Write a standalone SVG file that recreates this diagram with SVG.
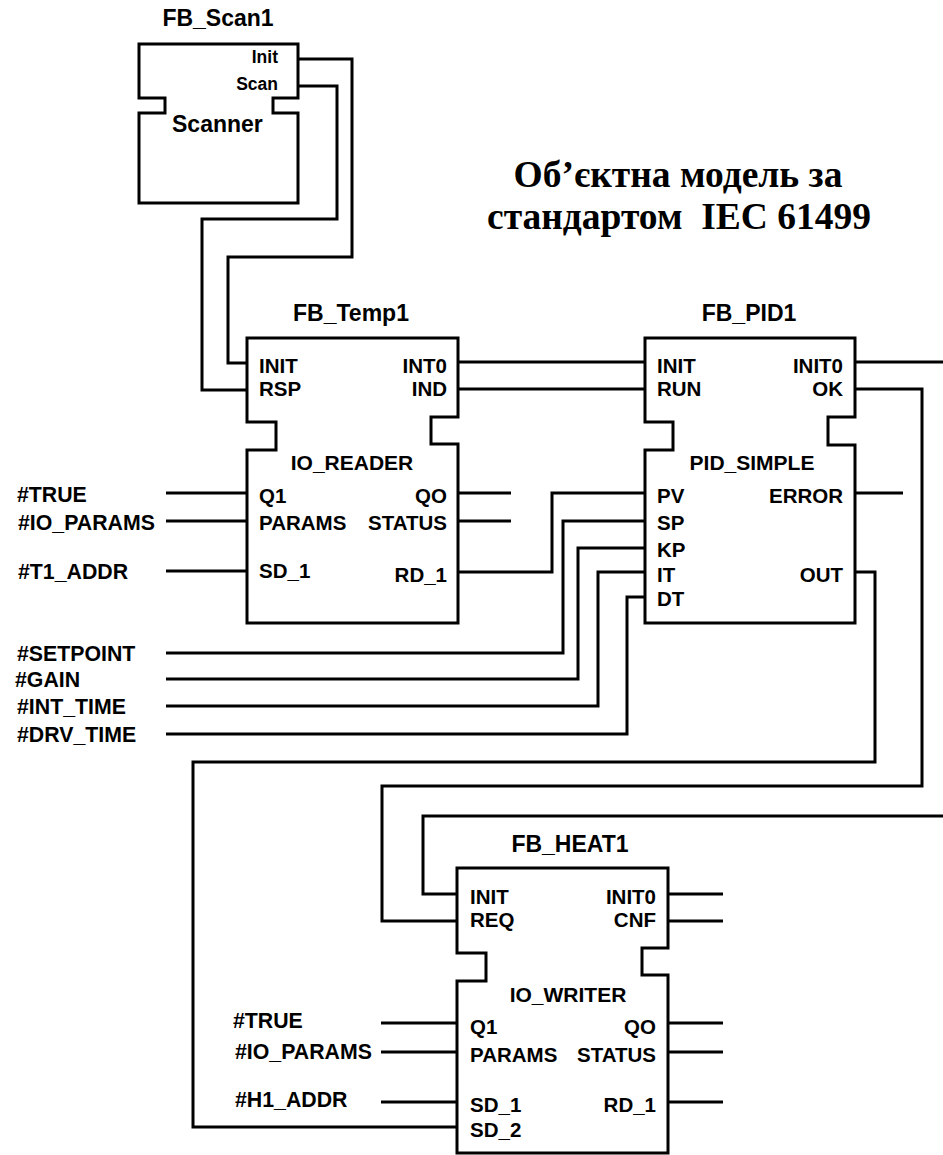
<svg xmlns="http://www.w3.org/2000/svg" width="943" height="1155" viewBox="0 0 943 1155">
<style>
.fb{fill:#fff;stroke:#000;stroke-width:3;stroke-linejoin:miter}
.w{fill:none;stroke:#000;stroke-width:3;stroke-linejoin:miter}
text{font-family:"Liberation Sans",Arial,sans-serif;font-weight:bold;fill:#000}
.p{font-size:20.5px}
.r{font-size:20.5px;text-anchor:end}
.t{font-size:23px;text-anchor:middle}
.ty{font-size:21px;text-anchor:middle}
.x{font-size:21.3px}
.s{font-size:17.5px;text-anchor:end}
.h{font-family:"Liberation Serif","Times New Roman",serif;font-size:37.5px;text-anchor:middle;white-space:pre}
</style>
<rect width="943" height="1155" fill="#fff"/>
<g id="connectors">
<path class="w" d="M298,59 H352 V257 H228 V363 H247"/>
<path class="w" d="M298,86 H337 V219 H202 V390 H247"/>
<path class="w" d="M458,362 H645"/>
<path class="w" d="M458,389 H645"/>
<path class="w" d="M458,493 H511"/>
<path class="w" d="M458,521 H511"/>
<path class="w" d="M458,572 H552 V493 H645"/>
<path class="w" d="M166,493 H247"/>
<path class="w" d="M166,521 H247"/>
<path class="w" d="M166,571 H247"/>
<path class="w" d="M166,653 H563 V521 H645"/>
<path class="w" d="M166,679 H578 V548 H645"/>
<path class="w" d="M166,706 H598 V572 H645"/>
<path class="w" d="M166,734 H627 V597 H645"/>
<path class="w" d="M855,362 H943"/>
<path class="w" d="M855,389 H922 V786 H382 V921 H457"/>
<path class="w" d="M855,493 H903"/>
<path class="w" d="M855,572 H875 V762 H193 V1127 H457"/>
<path class="w" d="M943,816 H423 V894 H457"/>
<path class="w" d="M668,894 H723"/>
<path class="w" d="M668,921 H723"/>
<path class="w" d="M668,1023 H723"/>
<path class="w" d="M668,1052 H723"/>
<path class="w" d="M668,1102 H723"/>
<path class="w" d="M381,1023 H457"/>
<path class="w" d="M381,1052 H457"/>
<path class="w" d="M381,1102 H457"/>
</g>
<g id="title">
<text class="h" x="678" y="187">Об’єктна модель за</text>
<text class="h" x="679" y="229" xml:space="preserve">стандартом  IEC 61499</text>
</g>
<g id="FB_Scan1">
<path class="fb" d="M139,44 H298 V98 H273 V113 H298 V203 H139 V113 H165 V98 H139 Z"/>
<text class="t" x="218" y="26">FB_Scan1</text>
<text class="s" x="278" y="63">Init</text>
<text class="s" x="278" y="90">Scan</text>
<text x="172" y="132" style="font-size:23px">Scanner</text>
</g>
<g id="FB_Temp1">
<path class="fb" d="M247,338 H458 V417 H431 V444 H458 V623 H247 V450 H276 V422 H247 Z"/>
<text class="t" x="351" y="321">FB_Temp1</text>
<text class="p" x="259" y="373">INIT</text>
<text class="p" x="259" y="396">RSP</text>
<text class="r" x="447" y="373">INT0</text>
<text class="r" x="447" y="396">IND</text>
<text class="ty" x="352" y="470">IO_READER</text>
<text class="p" x="259" y="503">Q1</text>
<text class="p" x="259" y="530">PARAMS</text>
<text class="p" x="259" y="578">SD_1</text>
<text class="r" x="447" y="503">QO</text>
<text class="r" x="447" y="530">STATUS</text>
<text class="r" x="447" y="582">RD_1</text>
</g>
<g id="FB_PID1">
<path class="fb" d="M645,338 H855 V417 H828 V445 H855 V623 H645 V450 H673 V422 H645 Z"/>
<text class="t" x="749" y="321">FB_PID1</text>
<text class="p" x="657" y="373">INIT</text>
<text class="p" x="657" y="396">RUN</text>
<text class="r" x="843" y="373">INIT0</text>
<text class="r" x="843" y="396">OK</text>
<text class="ty" x="752" y="470">PID_SIMPLE</text>
<text class="p" x="657" y="503">PV</text>
<text class="p" x="657" y="530">SP</text>
<text class="p" x="657" y="557">KP</text>
<text class="p" x="657" y="582">IT</text>
<text class="p" x="657" y="606">DT</text>
<text class="r" x="843" y="503">ERROR</text>
<text class="r" x="843" y="582">OUT</text>
</g>
<g id="FB_HEAT1">
<path class="fb" d="M457,868 H668 V948 H642 V975 H668 V1153 H457 V981 H486 V953 H457 Z"/>
<text class="t" x="570" y="852">FB_HEAT1</text>
<text class="p" x="470" y="904">INIT</text>
<text class="p" x="470" y="927">REQ</text>
<text class="r" x="656" y="904">INIT0</text>
<text class="r" x="656" y="927">CNF</text>
<text class="ty" x="568" y="1002">IO_WRITER</text>
<text class="p" x="470" y="1034">Q1</text>
<text class="p" x="470" y="1062">PARAMS</text>
<text class="p" x="470" y="1112">SD_1</text>
<text class="p" x="470" y="1137">SD_2</text>
<text class="r" x="656" y="1034">QO</text>
<text class="r" x="656" y="1062">STATUS</text>
<text class="r" x="656" y="1112">RD_1</text>
</g>
<g id="inputs">
<text class="x" x="17" y="502">#TRUE</text>
<text class="x" x="18" y="530">#IO_PARAMS</text>
<text class="x" x="18" y="579">#T1_ADDR</text>
<text class="x" x="17" y="661">#SETPOINT</text>
<text class="x" x="15" y="687">#GAIN</text>
<text class="x" x="17" y="714">#INT_TIME</text>
<text class="x" x="17" y="742">#DRV_TIME</text>
<text class="x" x="233" y="1028">#TRUE</text>
<text class="x" x="235" y="1059">#IO_PARAMS</text>
<text class="x" x="235" y="1107">#H1_ADDR</text>
</g>
</svg>
